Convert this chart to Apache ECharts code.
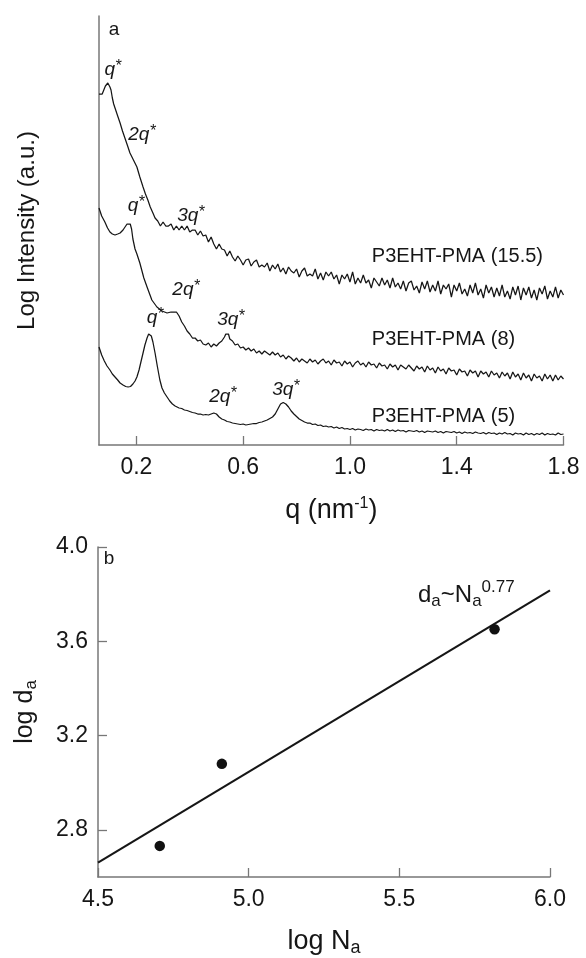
<!DOCTYPE html>
<html>
<head>
<meta charset="utf-8">
<script src="https://cdn.jsdelivr.net/npm/echarts@6/dist/echarts.min.js"></script>
<style>
  html, body { margin: 0; padding: 0; background: #ffffff; }
  #chart { width: 586px; height: 958px; }
</style>
</head>
<body>
<div id="chart"></div>
<script>
// ---- Panel a: SAXS profiles, [q (nm^-1), log intensity (a.u.)] ----
const curve155 = [
  [0.060,3.51],[0.066,3.49],[0.072,3.51],[0.078,3.55],[0.084,3.59],[0.089,3.61],[0.093,3.62],[0.097,3.61],
  [0.101,3.58],[0.105,3.55],[0.110,3.47],[0.115,3.41],[0.120,3.37],[0.130,3.29],[0.139,3.22],[0.148,3.14],
  [0.157,3.07],[0.166,3.00],[0.176,2.92],[0.189,2.85],[0.202,2.78],[0.213,2.68],[0.225,2.58],[0.234,2.51],
  [0.243,2.45],[0.252,2.38],[0.262,2.32],[0.270,2.27],
  [0.28,2.24],[0.29,2.19],[0.30,2.23],[0.31,2.19],[0.32,2.19],[0.33,2.21],[0.34,2.15],[0.35,2.19],[0.36,2.15],
  [0.37,2.19],[0.38,2.15],[0.39,2.19],[0.40,2.13],[0.41,2.15],[0.42,2.15],[0.43,2.10],[0.44,2.14],[0.45,2.09],
  [0.46,2.10],[0.47,2.03],[0.48,2.08],[0.49,2.01],[0.50,1.96],[0.51,2.01],[0.52,1.96],[0.53,1.95],[0.54,1.89],
  [0.55,1.94],[0.56,1.88],[0.57,1.84],[0.58,1.89],[0.59,1.85],[0.60,1.80],[0.61,1.85],[0.62,1.86],[0.63,1.79],
  [0.64,1.83],[0.65,1.85],[0.66,1.78],[0.67,1.80],[0.68,1.78],[0.69,1.82],[0.70,1.74],[0.71,1.80],[0.72,1.76],
  [0.73,1.81],[0.74,1.73],[0.75,1.77],[0.76,1.71],[0.77,1.78],[0.78,1.74],[0.79,1.72],[0.80,1.76],[0.81,1.68],
  [0.82,1.74],[0.83,1.77],[0.84,1.69],[0.85,1.71],[0.86,1.69],[0.87,1.76],[0.88,1.66],[0.89,1.72],[0.90,1.65],
  [0.91,1.73],[0.92,1.69],[0.93,1.73],[0.94,1.66],[0.95,1.70],[0.96,1.61],[0.97,1.70],[0.98,1.66],[0.99,1.71],
  [1.00,1.63],[1.01,1.73],[1.02,1.61],[1.03,1.67],[1.04,1.62],[1.05,1.70],[1.06,1.62],[1.07,1.65],[1.08,1.57],
  [1.09,1.67],[1.10,1.63],[1.11,1.59],[1.12,1.67],[1.13,1.60],[1.14,1.65],[1.15,1.57],[1.16,1.67],[1.17,1.58],
  [1.18,1.62],[1.19,1.56],[1.20,1.64],[1.21,1.54],[1.22,1.62],[1.23,1.64],[1.24,1.55],[1.25,1.59],[1.26,1.52],
  [1.27,1.63],[1.28,1.56],[1.29,1.64],[1.30,1.53],[1.31,1.60],[1.32,1.54],[1.33,1.64],[1.34,1.51],[1.35,1.60],
  [1.36,1.56],[1.37,1.61],[1.38,1.48],[1.39,1.60],[1.40,1.54],[1.41,1.62],[1.42,1.51],[1.43,1.56],[1.44,1.49],
  [1.45,1.60],[1.46,1.52],[1.47,1.62],[1.48,1.50],[1.49,1.56],[1.50,1.47],[1.51,1.60],[1.52,1.52],[1.53,1.58],
  [1.54,1.48],[1.55,1.57],[1.56,1.49],[1.57,1.60],[1.58,1.48],[1.59,1.54],[1.60,1.46],[1.61,1.58],[1.62,1.50],
  [1.63,1.59],[1.64,1.45],[1.65,1.57],[1.66,1.50],[1.67,1.58],[1.68,1.47],[1.69,1.55],[1.70,1.45],[1.71,1.57],
  [1.72,1.51],[1.73,1.59],[1.74,1.46],[1.75,1.54],[1.76,1.48],[1.77,1.58],[1.78,1.47],[1.79,1.55],[1.80,1.50]
];

const curve8 = [
  [0.060,2.37],[0.070,2.29],[0.082,2.23],[0.092,2.17],[0.101,2.13],[0.110,2.11],[0.120,2.10],[0.130,2.11],
  [0.139,2.12],[0.150,2.15],[0.157,2.17],[0.165,2.21],[0.172,2.23],[0.177,2.21],[0.182,2.16],[0.187,2.06],
  [0.195,1.96],[0.202,1.91],[0.213,1.82],[0.228,1.67],[0.240,1.58],[0.258,1.45],[0.277,1.38],[0.296,1.34],
  [0.315,1.32],
  [0.33,1.33],[0.34,1.33],[0.345,1.35],[0.35,1.33],[0.36,1.29],[0.37,1.23],[0.38,1.19],[0.39,1.14],[0.40,1.11],
  [0.41,1.07],[0.42,1.07],[0.43,1.04],[0.44,1.05],[0.45,1.01],[0.46,1.00],[0.47,1.02],[0.48,0.98],[0.49,1.01],
  [0.50,0.99],[0.51,1.02],[0.52,1.04],[0.53,1.08],[0.535,1.11],[0.54,1.09],[0.545,1.11],[0.55,1.06],[0.56,1.04],
  [0.57,1.00],[0.58,1.01],[0.59,0.97],[0.60,0.98],[0.61,0.95],[0.62,0.97],[0.63,0.94],[0.64,0.96],[0.65,0.92],
  [0.66,0.94],[0.67,0.91],[0.68,0.94],[0.69,0.92],[0.70,0.90],[0.71,0.93],[0.72,0.90],[0.73,0.92],[0.74,0.88],
  [0.75,0.90],[0.76,0.86],[0.77,0.89],[0.78,0.87],[0.79,0.84],[0.80,0.87],[0.81,0.83],[0.82,0.86],[0.83,0.84],
  [0.84,0.82],[0.85,0.86],[0.86,0.83],[0.87,0.85],[0.88,0.81],[0.89,0.84],[0.90,0.86],[0.91,0.82],[0.92,0.84],
  [0.93,0.80],[0.94,0.85],[0.95,0.82],[0.96,0.83],[0.97,0.79],[0.98,0.84],[0.99,0.81],[1.00,0.83],[1.01,0.78],
  [1.02,0.82],[1.03,0.84],[1.04,0.80],[1.05,0.82],[1.06,0.78],[1.07,0.83],[1.08,0.80],[1.09,0.81],[1.10,0.77],
  [1.11,0.82],[1.12,0.79],[1.13,0.80],[1.14,0.76],[1.15,0.81],[1.16,0.78],[1.17,0.80],[1.18,0.75],[1.19,0.80],
  [1.20,0.78],[1.21,0.76],[1.22,0.80],[1.23,0.77],[1.24,0.74],[1.25,0.79],[1.26,0.76],[1.27,0.78],[1.28,0.73],
  [1.29,0.79],[1.30,0.75],[1.31,0.77],[1.32,0.72],[1.33,0.78],[1.34,0.74],[1.35,0.76],[1.36,0.71],[1.37,0.77],
  [1.38,0.74],[1.39,0.75],[1.40,0.70],[1.41,0.76],[1.42,0.73],[1.43,0.74],[1.44,0.69],[1.45,0.75],[1.46,0.72],
  [1.47,0.74],[1.48,0.68],[1.49,0.74],[1.50,0.71],[1.51,0.73],[1.52,0.68],[1.53,0.74],[1.54,0.70],[1.55,0.72],
  [1.56,0.67],[1.57,0.73],[1.58,0.69],[1.59,0.72],[1.60,0.66],[1.61,0.73],[1.62,0.68],[1.63,0.71],[1.64,0.65],
  [1.65,0.72],[1.66,0.67],[1.67,0.70],[1.68,0.64],[1.69,0.71],[1.70,0.67],[1.71,0.69],[1.72,0.64],[1.73,0.71],
  [1.74,0.66],[1.75,0.70],[1.76,0.64],[1.77,0.70],[1.78,0.65],[1.79,0.69],[1.80,0.66]
];

const curve5 = [
  [0.060,0.98],[0.070,0.90],[0.080,0.84],[0.090,0.79],[0.101,0.75],[0.110,0.71],[0.120,0.68],[0.130,0.65],
  [0.139,0.62],[0.150,0.60],[0.160,0.585],[0.169,0.58],[0.178,0.585],[0.187,0.61],[0.195,0.64],[0.202,0.68],
  [0.210,0.75],[0.217,0.83],[0.225,0.92],[0.232,1.00],[0.240,1.07],[0.246,1.11],[0.251,1.12],[0.256,1.09],
  [0.262,1.03],[0.270,0.92],[0.279,0.78],[0.288,0.65],[0.296,0.57],[0.305,0.52],[0.315,0.48],[0.325,0.44],
  [0.335,0.41],[0.345,0.39],[0.352,0.38],
  [0.36,0.37],[0.37,0.365],[0.38,0.35],[0.39,0.345],[0.40,0.335],[0.41,0.325],[0.42,0.32],[0.43,0.31],
  [0.44,0.31],[0.45,0.30],[0.46,0.305],[0.47,0.30],[0.48,0.31],[0.49,0.32],[0.495,0.325],[0.50,0.31],
  [0.51,0.28],[0.52,0.26],[0.53,0.25],[0.54,0.235],[0.55,0.23],[0.56,0.22],[0.57,0.215],[0.58,0.21],
  [0.59,0.205],[0.60,0.21],[0.61,0.20],[0.62,0.205],[0.63,0.21],[0.64,0.215],[0.65,0.215],[0.66,0.225],
  [0.67,0.23],[0.68,0.24],[0.69,0.25],[0.70,0.265],[0.71,0.28],[0.72,0.31],[0.73,0.36],[0.74,0.41],
  [0.746,0.43],[0.75,0.425],[0.76,0.41],[0.77,0.38],[0.78,0.34],[0.79,0.31],[0.80,0.285],[0.81,0.26],
  [0.82,0.245],[0.83,0.23],[0.84,0.22],
  [0.85,0.22],[0.86,0.205],[0.87,0.21],[0.88,0.195],[0.89,0.20],[0.90,0.185],[0.91,0.19],[0.92,0.18],
  [0.93,0.185],[0.94,0.17],[0.95,0.18],[0.96,0.165],[0.97,0.175],[0.98,0.16],[0.99,0.165],[1.00,0.155],
  [1.01,0.165],[1.02,0.15],[1.03,0.16],[1.04,0.155],[1.05,0.145],[1.06,0.16],[1.07,0.15],[1.08,0.155],
  [1.09,0.14],[1.10,0.155],[1.11,0.145],[1.12,0.15],[1.13,0.14],[1.14,0.155],[1.15,0.14],[1.16,0.15],
  [1.17,0.135],[1.18,0.15],[1.19,0.14],[1.20,0.145],[1.21,0.13],[1.22,0.145],[1.23,0.14],[1.24,0.135],
  [1.25,0.145],[1.26,0.13],[1.27,0.14],[1.28,0.125],[1.29,0.14],[1.30,0.135],[1.31,0.13],[1.32,0.14],
  [1.33,0.125],[1.34,0.135],[1.35,0.12],[1.36,0.135],[1.37,0.13],[1.38,0.125],[1.39,0.135],[1.40,0.12],
  [1.41,0.13],[1.42,0.115],[1.43,0.13],[1.44,0.12],[1.45,0.125],[1.46,0.115],[1.47,0.13],[1.48,0.12],
  [1.49,0.115],[1.50,0.125],[1.51,0.11],[1.52,0.125],[1.53,0.115],[1.54,0.12],[1.55,0.105],[1.56,0.12],
  [1.57,0.11],[1.58,0.125],[1.59,0.11],[1.60,0.115],[1.61,0.10],[1.62,0.12],[1.63,0.11],[1.64,0.115],
  [1.65,0.10],[1.66,0.12],[1.67,0.105],[1.68,0.115],[1.69,0.10],[1.70,0.115],[1.71,0.105],[1.72,0.12],
  [1.73,0.10],[1.74,0.115],[1.75,0.105],[1.76,0.11],[1.77,0.10],[1.78,0.12],[1.79,0.105],[1.80,0.11]
];

// Sample names and the position of each name (left edge, vertical centre)
const sampleNames = ['P3EHT-PMA (15.5)', 'P3EHT-PMA (8)', 'P3EHT-PMA (5)'];
const sampleNamePos = [[1.082, 1.885], [1.082, 1.055], [1.082, 0.285]];

// Bragg peak annotations: [q, intensity, order]
const peakMarks = [
  [0.112, 3.75, 'q'], [0.221, 3.10, '2q'], [0.404, 2.29, '3q'],
  [0.199, 2.39, 'q'], [0.386, 1.55, '2q'], [0.554, 1.25, '3q'],
  [0.270, 1.27, 'q'], [0.524, 0.48, '2q'], [0.760, 0.55, '3q']
];

const qTicks = [0.2, 0.6, 1.0, 1.4, 1.8];

// ---- Panel b: domain spacing vs. block length ----
const logNa = [4.705, 4.911, 5.816];
const logDa = [2.732, 3.080, 3.651];
const fitNa = [4.5, 6.0];
const fitDa = [2.661, 3.816];
const naTicks = [4.5, 5.0, 5.5, 6.0];
const daTicks = [2.8, 3.2, 3.6, 4.0];

const FONT = '"Liberation Sans", Arial, Helvetica, sans-serif';
const TEXT = '#161616';
const AXIS = '#777777';
const LINE = '#161616';

const chart = echarts.init(document.getElementById('chart'), null, { renderer: 'canvas' });

const axisLine = { show: true, lineStyle: { color: AXIS, width: 1.5 } };
const tickStyle = { show: true, inside: true, length: 9, lineStyle: { color: AXIS, width: 1.3 } };

const peakRich = {
  i: { fontFamily: FONT, fontStyle: 'italic', fontSize: 19, color: TEXT },
  s: { fontFamily: FONT, fontStyle: 'italic', fontSize: 16, color: TEXT, padding: [0, 0, 6, 0] }
};

// transparent carrier for text placed in data coordinates
const textCarrier = { symbolSize: 1, silent: true, z: 5, itemStyle: { color: 'rgba(0,0,0,0)', opacity: 1 } };

const option = {
  animation: false,
  backgroundColor: '#ffffff',
  textStyle: { fontFamily: FONT, color: TEXT },
  grid: [
    { left: 99, right: 22.5, top: 16, height: 429, containLabel: false },
    { left: 98, right: 36, top: 547, height: 330, containLabel: false }
  ],
  xAxis: [
    {
      gridIndex: 0, type: 'value', min: 0.06, max: 1.8,
      axisLine: axisLine,
      axisTick: Object.assign({}, tickStyle, { customValues: qTicks }),
      axisLabel: { customValues: qTicks, margin: 11, fontSize: 23, color: TEXT, fontFamily: FONT,
        formatter: v => v.toFixed(1) },
      splitLine: { show: false },
      name: '{b|q (nm}{p|-1}{b|)}',
      nameLocation: 'middle', nameGap: 51,
      nameTextStyle: { rich: {
        b: { fontSize: 27, fontFamily: FONT, color: TEXT },
        p: { fontSize: 16, fontFamily: FONT, color: TEXT, padding: [0, 0, 13, 0] }
      } }
    },
    {
      gridIndex: 1, type: 'value', min: 4.5, max: 6.0, interval: 0.5,
      axisLine: axisLine,
      axisTick: tickStyle,
      axisLabel: { margin: 11, fontSize: 23, color: TEXT, fontFamily: FONT, formatter: v => v.toFixed(1) },
      splitLine: { show: false },
      name: '{b|log N}{s|a}',
      nameLocation: 'middle', nameGap: 49,
      nameTextStyle: { rich: {
        b: { fontSize: 27, fontFamily: FONT, color: TEXT },
        s: { fontSize: 18, fontFamily: FONT, color: TEXT, padding: [13, 0, 0, 0] }
      } }
    }
  ],
  yAxis: [
    {
      gridIndex: 0, type: 'value', min: 0, max: 4.29,
      axisLine: axisLine,
      axisTick: { show: false },
      axisLabel: { show: false },
      splitLine: { show: false },
      name: 'Log Intensity (a.u.)',
      nameLocation: 'middle', nameGap: 60,
      nameTextStyle: { fontSize: 24, fontFamily: FONT, color: TEXT }
    },
    {
      gridIndex: 1, type: 'value', min: 2.6, max: 4.0,
      axisLine: axisLine,
      axisTick: Object.assign({}, tickStyle, { customValues: daTicks }),
      axisLabel: { customValues: daTicks, margin: 10, fontSize: 23, color: TEXT, fontFamily: FONT,
        formatter: v => v.toFixed(1) },
      splitLine: { show: false },
      name: '{b|log d}{s|a}',
      nameLocation: 'middle', nameGap: 58,
      nameTextStyle: { rich: {
        b: { fontSize: 25, fontFamily: FONT, color: TEXT },
        s: { fontSize: 17, fontFamily: FONT, color: TEXT, padding: [12, 0, 0, 0] }
      } }
    }
  ],
  series: [
    { type: 'line', xAxisIndex: 0, yAxisIndex: 0, data: curve155, showSymbol: false,
      lineStyle: { color: LINE, width: 1.25 }, z: 3 },
    { type: 'line', xAxisIndex: 0, yAxisIndex: 0, data: curve8, showSymbol: false,
      lineStyle: { color: LINE, width: 1.25 }, z: 3 },
    { type: 'line', xAxisIndex: 0, yAxisIndex: 0, data: curve5, showSymbol: false,
      lineStyle: { color: LINE, width: 1.25 }, z: 3 },
    // peak order labels
    Object.assign({ type: 'scatter', xAxisIndex: 0, yAxisIndex: 0 }, textCarrier, {
      data: peakMarks.map(p => ({ value: [p[0], p[1]], name: p[2] })),
      label: { show: true, position: 'inside', formatter: p => '{i|' + p.name + '}{s|*}', rich: peakRich } }),
    // sample names
    Object.assign({ type: 'scatter', xAxisIndex: 0, yAxisIndex: 0 }, textCarrier, {
      data: sampleNames.map((n, k) => ({ value: sampleNamePos[k], name: n })),
      label: { show: true, position: 'inside', align: 'left', formatter: p => p.name,
        fontSize: 20, fontFamily: FONT, color: TEXT } }),
    // panel letter a
    Object.assign({ type: 'scatter', xAxisIndex: 0, yAxisIndex: 0 }, textCarrier, {
      data: [{ value: [0.116, 4.15], name: 'a' }],
      label: { show: true, position: 'inside', formatter: p => p.name, fontSize: 19, fontFamily: FONT, color: TEXT } }),
    // panel b: fit line and points
    { type: 'line', xAxisIndex: 1, yAxisIndex: 1, data: fitNa.map((x, k) => [x, fitDa[k]]), showSymbol: false,
      lineStyle: { color: LINE, width: 2.1 }, z: 3 },
    { type: 'scatter', xAxisIndex: 1, yAxisIndex: 1, data: logNa.map((x, k) => [x, logDa[k]]),
      symbol: 'circle', symbolSize: 10.5, itemStyle: { color: '#111111', opacity: 1 }, z: 4 },
    Object.assign({ type: 'scatter', xAxisIndex: 1, yAxisIndex: 1 }, textCarrier, {
      data: [{ value: [4.537, 3.952], name: 'b' }],
      label: { show: true, position: 'inside', formatter: p => p.name, fontSize: 19, fontFamily: FONT, color: TEXT } }),
    Object.assign({ type: 'scatter', xAxisIndex: 1, yAxisIndex: 1 }, textCarrier, {
      data: [{ value: [5.562, 3.795], name: 'fit' }],
      label: { show: true, position: 'inside', align: 'left',
        formatter: () => '{b|d}{s|a}{b|~N}{s|a}{p|0.77}',
        rich: {
          b: { fontSize: 24, fontFamily: FONT, color: TEXT },
          s: { fontSize: 17, fontFamily: FONT, color: TEXT, padding: [11, 0, 0, 0] },
          p: { fontSize: 17, fontFamily: FONT, color: TEXT, padding: [0, 0, 16, 0] }
        } } })
  ]
};

chart.setOption(option);
</script>
</body>
</html>
